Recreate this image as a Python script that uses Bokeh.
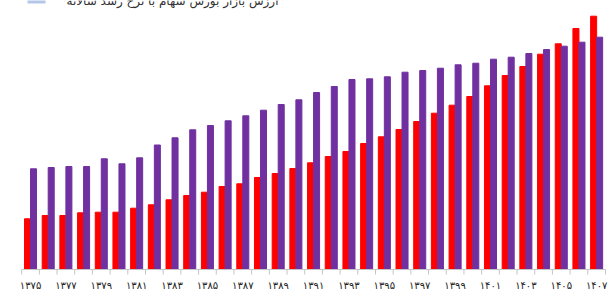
from bokeh.plotting import figure
from bokeh.models import Range1d, Label, BoxAnnotation
from bokeh.core.properties import value
from bokeh.embed import file_html
from bokeh.resources import INLINE

years = ["۱۳۷۵", "۱۳۷۶", "۱۳۷۷", "۱۳۷۸", "۱۳۷۹", "۱۳۸۰", "۱۳۸۱", "۱۳۸۲", "۱۳۸۳",
         "۱۳۸۴", "۱۳۸۵", "۱۳۸۶", "۱۳۸۷", "۱۳۸۸", "۱۳۸۹", "۱۳۹۰", "۱۳۹۱", "۱۳۹۲",
         "۱۳۹۳", "۱۳۹۴", "۱۳۹۵", "۱۳۹۶", "۱۳۹۷", "۱۳۹۸", "۱۳۹۹", "۱۴۰۰", "۱۴۰۱",
         "۱۴۰۲", "۱۴۰۳", "۱۴۰۴", "۱۴۰۵", "۱۴۰۶", "۱۴۰۷"]

red_values = [50.7, 54, 54, 56.7, 57.3, 57.3, 61.3, 64.7, 69.7, 74, 77.3, 83, 85.7,
              92, 96, 101, 106.7, 113, 118, 126, 132.7, 140, 148, 156.3, 164.3, 173,
              183.7, 194, 203, 215.3, 225.7, 241, 253.3]

purple_values = [100.7, 102, 103, 103, 110.7, 105.7, 111.7, 124.5, 131.7, 139.7, 144,
                 148.7, 153.7, 159.3, 165, 169.7, 177, 183, 190, 190.7, 192.7, 197.3,
                 199, 201.3, 204.7, 206.3, 210.3, 212.3, 216, 220, 223.3, 227.3, 232.3]

legend_text = "ارزش بازار بورس سهام با نرخ رشد سالانه"

n = len(years)
idx = list(range(n))
red_x = [i - 0.17 for i in idx]
purple_x = [i + 0.17 for i in idx]

p = figure(width=611, height=295, output_backend="svg", toolbar_location=None,
           x_range=Range1d(-1.696, 32.84), y_range=Range1d(-26, 269),
           min_border_left=0, min_border_right=0, min_border_top=0,
           min_border_bottom=0)
p.outline_line_color = None
p.grid.visible = False
p.axis.visible = False

p.vbar(x=red_x, top=red_values, width=0.34, color="#ff0000")
p.vbar(x=purple_x, top=purple_values, width=0.34, color="#7030a0")

# category axis: baseline, boundary ticks, labels every other year
bounds = [i - 0.5 for i in range(n + 1)]
p.segment(x0=[bounds[0]], x1=[bounds[-1]], y0=[0], y1=[0],
          line_color="#c4c4c4", line_width=1)
p.segment(x0=bounds, x1=bounds, y0=[0] * len(bounds), y1=[-5] * len(bounds),
          line_color="#c4c4c4", line_width=1)

label_ticks = idx[::2]
p.text(x=label_ticks, y=[-16] * len(label_ticks), text=[years[i] for i in label_ticks],
       text_font=value("DejaVu Sans"), text_font_size="10px", text_color="#222222",
       text_align="center", text_baseline="middle")

# legend (cut off at the top edge, as in the reference)
p.add_layout(BoxAnnotation(left=27, right=45, bottom=292, top=305,
                           left_units="screen", right_units="screen",
                           bottom_units="screen", top_units="screen",
                           fill_color="#b4c7e7", fill_alpha=1.0, line_color=None))
p.add_layout(Label(x=278, y=295, x_units="screen", y_units="screen", text=legend_text,
                   text_font="DejaVu Sans", text_font_size="12px", text_color="#333333",
                   text_align="right", text_baseline="alphabetic"))

open("out.html", "w").write(file_html(p, INLINE))
